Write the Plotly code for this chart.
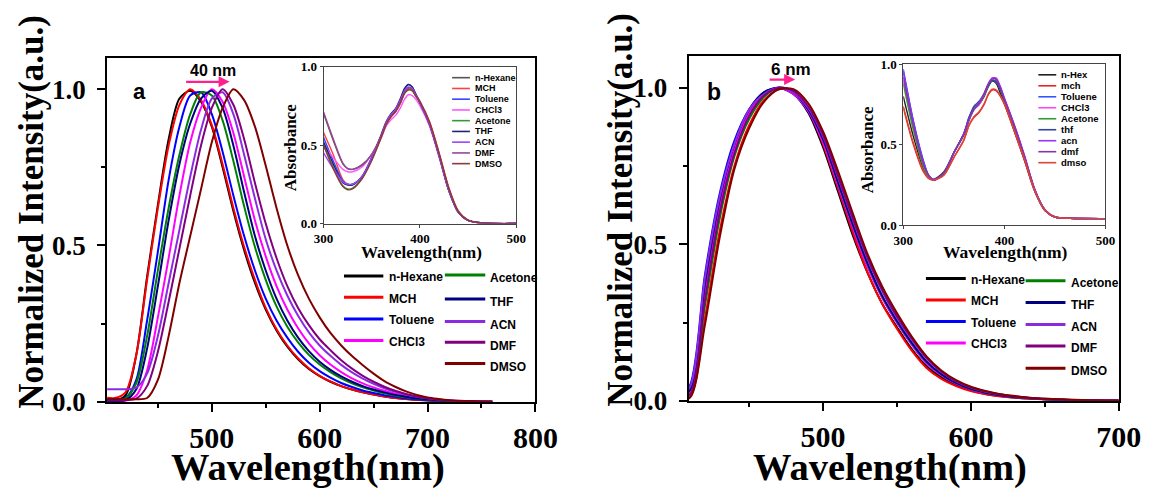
import plotly.graph_objects as go

W, H = 1166, 490

# ---------------- data ----------------
solvents = ["n-Hexane", "MCH", "Toluene", "CHCl3", "Acetone", "THF", "ACN", "DMF", "DMSO"]
em_colors = ["#000000", "#ff0000", "#0000ff", "#ff00ff", "#008000", "#000080", "#8a2be2", "#800080", "#800000"]

# emission, panel a (nm)
wl_a = [400, 410, 420, 430, 440, 450, 460, 470, 480, 490, 500, 510, 520, 530, 540, 550, 560, 570, 580, 590,
        600, 610, 620, 630, 640, 650, 660, 670, 680, 690, 700, 710, 720, 730, 740, 750, 760]
em_a_hexane = [.004, .004, .02, .15, .40, .63, .84, .97, .995, .96, .88, .75, .61, .485, .38, .295, .228, .176, .136, .105,
               .082, .064, .05, .039, .03, .023, .017, .012, .009, .006, .004, .002, .001, 0, 0, 0, 0]
em_a_mch = [.014, .012, .03, .15, .39, .62, .82, .95, 1.0, .965, .885, .76, .62, .495, .39, .30, .232, .18, .139, .107,
            .083, .065, .05, .039, .03, .023, .017, .012, .009, .006, .004, .002, .001, 0, 0, 0, 0]
em_a_toluene = [.008, .008, .012, .07, .26, .48, .71, .88, .98, .99, .92, .80, .66, .53, .42, .33, .26, .205, .16, .125,
                .098, .077, .06, .047, .036, .028, .021, .016, .011, .008, .005, .003, .002, .001, 0, 0, 0]
em_a_chcl3 = [0, 0, .003, .02, .10, .27, .46, .66, .83, .94, 1.0, .96, .86, .72, .58, .465, .37, .295, .235, .187,
              .149, .119, .095, .075, .059, .046, .035, .026, .019, .013, .009, .006, .004, .002, .001, 0, 0]
em_a_acetone = [0, .002, .01, .06, .21, .42, .62, .79, .92, .99, .98, .90, .77, .625, .495, .39, .305, .24, .19, .15,
                .119, .095, .075, .059, .046, .036, .027, .02, .014, .01, .007, .004, .002, .001, 0, 0, 0]
em_a_thf = [0, 0, .005, .04, .17, .37, .58, .76, .89, .97, .995, .94, .82, .67, .53, .42, .33, .26, .205, .162,
            .128, .102, .081, .064, .05, .039, .03, .022, .016, .011, .008, .005, .003, .002, .001, 0, 0]
em_a_acn = [.04, .04, .04, .045, .09, .21, .38, .55, .72, .87, .97, .99, .92, .79, .65, .52, .42, .34, .275, .222,
            .18, .147, .118, .094, .074, .057, .043, .032, .023, .016, .011, .007, .004, .002, .001, 0, 0]
em_a_dmf = [.005, .005, .005, .01, .05, .16, .32, .49, .66, .82, .94, 1.0, .95, .84, .70, .57, .46, .37, .30, .245,
            .20, .165, .133, .106, .083, .064, .048, .035, .025, .017, .011, .007, .004, .002, .001, 0, 0]
em_a_dmso = [.008, .008, .008, .008, .012, .07, .21, .38, .53, .68, .83, .94, 1.0, .965, .88, .755, .62, .50, .405, .33,
             .27, .22, .18, .146, .117, .09, .066, .048, .033, .022, .014, .009, .005, .003, .002, .001, 0]

# emission, panel b (nm)
wl_b = [400, 410, 420, 430, 440, 450, 460, 470, 480, 490, 500, 510, 520, 530, 540, 550, 560, 570, 580, 590,
        600, 610, 620, 630, 640, 650, 660, 670, 680, 690, 700]
em_b_hexane = [0, .03, .37, .63, .81, .92, .98, 1.0, .98, .92, .81, .67, .53, .41, .31, .235, .165, .11, .075, .05,
               .033, .022, .015, .01, .007, .005, .003, .002, .001, 0, 0]
em_b_mch = [0, .012, .26, .54, .75, .88, .96, .995, .99, .93, .82, .68, .54, .41, .31, .23, .16, .105, .07, .047,
            .031, .021, .014, .01, .007, .005, .003, .002, .001, .001, 0]
em_b_toluene = [0, .05, .40, .66, .83, .93, .985, 1.0, .98, .925, .83, .69, .555, .43, .33, .25, .18, .12, .082, .055,
                .037, .025, .017, .012, .008, .005, .003, .002, .001, 0, 0]
em_b_chcl3 = [0, .03, .35, .62, .80, .92, .98, 1.0, .98, .925, .825, .69, .555, .43, .33, .25, .18, .12, .082, .055,
              .037, .025, .017, .012, .008, .005, .003, .002, .001, 0, 0]
em_b_acetone = [0, .02, .30, .58, .78, .90, .97, 1.0, .99, .935, .84, .70, .565, .44, .335, .255, .185, .125, .085, .057,
                .038, .026, .018, .012, .008, .005, .003, .002, .001, 0, 0]
em_b_thf = [0, .035, .37, .64, .82, .93, .985, 1.0, .985, .93, .835, .70, .565, .44, .335, .255, .185, .125, .085, .057,
            .038, .026, .018, .012, .008, .005, .003, .002, .001, 0, 0]
em_b_acn = [0, .045, .39, .65, .82, .93, .98, 1.0, .985, .935, .845, .715, .58, .455, .35, .265, .195, .135, .092, .062,
            .042, .029, .02, .014, .009, .006, .004, .002, .001, .001, 0]
em_b_dmf = [0, .02, .32, .60, .79, .91, .975, 1.0, .99, .94, .85, .72, .585, .46, .355, .27, .20, .138, .094, .063,
            .043, .03, .02, .014, .009, .006, .004, .002, .001, .001, 0]
em_b_dmso = [0, .01, .24, .52, .74, .87, .955, .995, .995, .95, .86, .735, .60, .47, .365, .28, .205, .142, .097, .066,
             .045, .031, .021, .015, .01, .007, .005, .003, .002, .001, .001]

# absorption insets (nm)
wl_abs = [300, 310, 320, 325, 330, 340, 350, 360, 365, 370, 375, 380, 384, 388, 392, 396, 400, 410, 420, 430,
          440, 450, 465, 500]
abs_a_hexane = [.70, .53, .38, .35, .345, .375, .44, .56, .64, .69, .72, .77, .83, .86, .85, .81, .77, .63, .43, .21, .07, .02, .003, 0]
abs_a_mch = [.58, .44, .28, .25, .25, .30, .41, .55, .63, .68, .715, .77, .83, .865, .855, .82, .78, .65, .45, .23, .08, .022, .003, 0]
abs_a_toluene = [.55, .40, .27, .25, .25, .30, .42, .56, .64, .695, .73, .79, .85, .885, .87, .82, .77, .63, .43, .21, .07, .02, .003, 0]
abs_a_chcl3 = [.50, .42, .345, .33, .33, .36, .44, .55, .62, .66, .69, .74, .79, .82, .815, .79, .75, .62, .42, .21, .07, .02, .003, 0]
abs_a_acetone = [.50, .36, .24, .22, .225, .29, .41, .56, .64, .69, .72, .78, .83, .855, .85, .81, .77, .63, .43, .21, .07, .02, .003, 0]
abs_a_thf = [.52, .38, .26, .245, .245, .30, .42, .57, .65, .70, .735, .80, .86, .885, .87, .82, .77, .63, .43, .21, .07, .02, .003, 0]
abs_a_acn = [.45, .35, .265, .25, .25, .30, .42, .56, .645, .695, .73, .79, .845, .87, .86, .815, .77, .63, .43, .21, .07, .02, .003, 0]
abs_a_dmf = [.71, .54, .385, .35, .345, .37, .44, .56, .64, .685, .72, .775, .83, .865, .855, .815, .775, .64, .44, .22, .075, .02, .003, 0]
abs_a_dmso = [.50, .35, .235, .215, .22, .285, .40, .55, .63, .68, .715, .775, .83, .85, .845, .81, .775, .645, .445, .225, .075, .022, .004, 0]

abs_b_hexane = [.80, .55, .35, .30, .285, .33, .45, .56, .65, .72, .75, .80, .86, .895, .88, .82, .76, .58, .40, .21, .09, .05, .042, .04]
abs_b_mch = [.73, .50, .33, .29, .28, .31, .42, .53, .62, .67, .70, .75, .81, .84, .835, .80, .75, .58, .40, .21, .09, .05, .042, .04]
abs_b_toluene = [.97, .65, .40, .31, .28, .32, .45, .57, .67, .73, .76, .81, .87, .90, .895, .85, .78, .61, .42, .22, .095, .05, .042, .04]
abs_b_chcl3 = [.90, .60, .37, .30, .28, .32, .45, .57, .66, .72, .75, .81, .87, .91, .915, .86, .79, .62, .43, .22, .095, .05, .042, .04]
abs_b_acetone = [.88, .59, .36, .30, .28, .32, .45, .57, .66, .73, .76, .81, .87, .90, .89, .84, .78, .61, .42, .22, .095, .05, .042, .04]
abs_b_thf = [.95, .64, .39, .31, .28, .32, .45, .57, .67, .74, .77, .82, .87, .90, .89, .84, .78, .61, .42, .22, .095, .05, .042, .04]
abs_b_acn = [.96, .64, .39, .31, .285, .32, .45, .57, .66, .72, .76, .82, .88, .915, .91, .86, .79, .62, .43, .225, .097, .05, .042, .04]
abs_b_dmf = [.92, .62, .38, .31, .28, .32, .45, .57, .66, .72, .755, .815, .875, .91, .905, .855, .785, .615, .425, .22, .095, .05, .042, .04]
abs_b_dmso = [.74, .51, .335, .29, .28, .31, .42, .53, .62, .675, .705, .755, .815, .845, .84, .805, .755, .585, .405, .215, .092, .05, .042, .04]

em_a = [em_a_hexane, em_a_mch, em_a_toluene, em_a_chcl3, em_a_acetone, em_a_thf, em_a_acn, em_a_dmf, em_a_dmso]
em_b = [em_b_hexane, em_b_mch, em_b_toluene, em_b_chcl3, em_b_acetone, em_b_thf, em_b_acn, em_b_dmf, em_b_dmso]
abs_a = [abs_a_hexane, abs_a_mch, abs_a_toluene, abs_a_chcl3, abs_a_acetone, abs_a_thf, abs_a_acn, abs_a_dmf, abs_a_dmso]
abs_b = [abs_b_hexane, abs_b_mch, abs_b_toluene, abs_b_chcl3, abs_b_acetone, abs_b_thf, abs_b_acn, abs_b_dmf, abs_b_dmso]

inset_a_names = ["n-Hexane", "MCH", "Toluene", "CHCl3", "Acetone", "THF", "ACN", "DMF", "DMSO"]
inset_a_colors = ["#555555", "#ff4040", "#3344ff", "#ff55ff", "#339933", "#22227a", "#9944ff", "#994499", "#8b3a3a"]
inset_b_names = ["n-Hex", "mch", "Toluene", "CHCl3", "Acetone", "thf", "acn", "dmf", "dmso"]
inset_b_colors = ["#222222", "#ee2222", "#3355ff", "#ff44ff", "#339933", "#3344aa", "#9933ff", "#8833aa", "#dd4433"]

# ---------------- helpers ----------------
def fx(p):
    return p / W


def fy(p):
    return 1 - p / H


SERIF = "Liberation Serif"
SANS = "Liberation Sans"

fig = go.Figure()


def add_lines(xs, ys, color, width, xa, ya):
    fig.add_trace(go.Scatter(
        x=xs, y=ys, mode="lines",
        line=dict(color=color, width=width, shape="spline", smoothing=0.8),
        xaxis=xa, yaxis=ya, showlegend=False, hoverinfo="skip"))


for ys, c in zip(em_a, em_colors):
    add_lines(wl_a, ys, c, 2, "x", "y")
for ys, c in zip(em_b, em_colors):
    add_lines(wl_b, ys, c, 2, "x2", "y2")
for ys, c in zip(abs_a, inset_a_colors):
    add_lines(wl_abs, ys, c, 1.4, "x3", "y3")
for ys, c in zip(abs_b, inset_b_colors):
    add_lines(wl_abs, ys, c, 1.4, "x4", "y4")


def main_axis(domain, rng, dtick, minor_dtick, size, anchor, fmt=None, standoff=None):
    d = dict(domain=domain, range=rng, anchor=anchor,
             showline=True, linecolor="black", linewidth=2, mirror=True,
             ticks="outside", ticklen=8, tickwidth=2, tickcolor="black",
             tick0=0, dtick=dtick,
             minor=dict(ticks="outside", ticklen=4, tickwidth=2, tickcolor="black", dtick=minor_dtick, tick0=0),
             tickfont=dict(family=SERIF, size=size, color="black", weight="bold"),
             showgrid=False, zeroline=False)
    if fmt:
        d["tickformat"] = fmt
    if standoff is not None:
        d["ticklabelstandoff"] = standoff
    return d


def inset_axis(domain, rng, dtick, anchor, fmt=None):
    d = dict(domain=domain, range=rng, anchor=anchor,
             showline=True, linecolor="#444444", linewidth=1, mirror=True,
             ticks="outside", ticklen=3, tickwidth=1, tickcolor="#444444",
             tick0=0, dtick=dtick,
             tickfont=dict(family=SERIF, size=13, color="black", weight="bold"),
             showgrid=False, zeroline=False)
    if fmt:
        d["tickformat"] = fmt
    return d


fig.update_layout(
    width=W, height=H,
    margin=dict(l=0, r=0, t=0, b=0),
    paper_bgcolor="white", plot_bgcolor="white",
    showlegend=False,
    xaxis=main_axis([fx(100), fx(540.7)], [403, 800], 100, 50, 30, "y"),
    yaxis=main_axis([fy(413.3), fy(53.3)], [0, 1.1], 0.5, 0.25, 27, "x", ".1f", 6),
    xaxis2=main_axis([fx(698.3), fx(1141)], [409, 700], 100, 50, 30, "y2"),
    yaxis2=main_axis([fy(412.3), fy(51.7)], [0, 1.1], 0.5, 0.25, 27, "x2", ".1f", 6),
    xaxis3=inset_axis([fx(322.7), fx(521)], [300, 500], 100, "y3"),
    yaxis3=inset_axis([fy(226.7), fy(62.3)], [0, 1.0], 0.5, "x3", ".1f"),
    xaxis4=inset_axis([fx(919.3), fx(1127.4)], [300, 500], 100, "y4"),
    yaxis4=inset_axis([fy(228.3), fy(60)], [0, 1.0], 0.5, "x4", ".1f"),
)


def text(x, y, s, size, family=SANS, angle=0, xanchor="center", yanchor="middle"):
    fig.add_annotation(x=fx(x), y=fy(y), xref="paper", yref="paper", text=s, showarrow=False,
                       textangle=angle, xanchor=xanchor, yanchor=yanchor,
                       font=dict(family=family, size=size, color="black", weight="bold"))


def seg(x0, x1, y, color, width):
    fig.add_shape(type="line", xref="paper", yref="paper",
                  x0=fx(x0), x1=fx(x1), y0=fy(y), y1=fy(y),
                  line=dict(color=color, width=width))


# axis titles
text(22, 214, "Normalized Intensity(a.u.)", 35, SERIF, angle=-90)
text(628, 212, "Normalized Intensity(a.u.)", 35, SERIF, angle=-90)
text(307, 482, "Wavelength(nm)", 38.5, SERIF)
text(906, 482, "Wavelength(nm)", 38.5, SERIF)

# inset titles
text(423, 257, "Wavelength(nm)", 17, SERIF)
text(1025, 257, "Wavelength(nm)", 17.5, SERIF)
text(289, 147, "Absorbance", 17, SERIF, angle=-90)
text(882, 150, "Absorbance", 17, SERIF, angle=-90)

# panel letters
text(133, 88, "a", 22)
text(725, 89, "b", 23)

# peak-shift labels and arrows
PINK = "#ff1f8f"
text(209, 67, "40 nm", 16)
fig.add_annotation(x=fx(226), y=fy(78.3), xref="paper", yref="paper", ax=-45, ay=0,
                   showarrow=True, arrowhead=2, arrowsize=1, arrowwidth=2.2, arrowcolor=PINK, text="")
text(804, 65, "6 nm", 17)
fig.add_annotation(x=fx(808), y=fy(76), xref="paper", yref="paper", ax=-27, ay=0,
                   showarrow=True, arrowhead=2, arrowsize=1, arrowwidth=2.2, arrowcolor=PINK, text="")

# main legends (two columns per panel)
leg_a = [(343.7, 384.2, 387.9, [281.7, 304, 326.7, 349.3], 1.5, range(0, 4)),
         (447.5, 489.1, 491.7, [280.7, 305.7, 329.3, 351, 373.3], 3.5, range(4, 9))]
leg_b = [(942.6, 983.6, 987.4, [284.3, 306.7, 329.3, 351.7], 1.5, range(0, 4)),
         (1045.2, 1086.2, 1089.9, [286.7, 309.3, 332.3, 355, 378.3], 2.5, range(4, 9))]
for cols in (leg_a, leg_b):
    for x0, x1, xt, rows, dy, idx in cols:
        for yy, i in zip(rows, idx):
            seg(x0, x1, yy, em_colors[i], 3)
            text(xt, yy + dy, solvents[i], 12, SANS, xanchor="left")

# inset legends
rows_a = [74, 85.3, 96.5, 107.8, 119, 130.3, 141.5, 152.8, 164]
for yy, name, c in zip(rows_a, inset_a_names, inset_a_colors):
    seg(455, 473.3, yy, c, 1.6)
    text(476, yy, name, 9, SANS, xanchor="left")
rows_b = [71, 82.5, 94, 105.5, 117, 128.5, 140, 151.5, 163]
for yy, name, c in zip(rows_b, inset_b_names, inset_b_colors):
    seg(1058.3, 1076.7, yy, c, 1.6)
    text(1080, yy, name, 9.5, SANS, xanchor="left")

fig.write_html("out.html")
